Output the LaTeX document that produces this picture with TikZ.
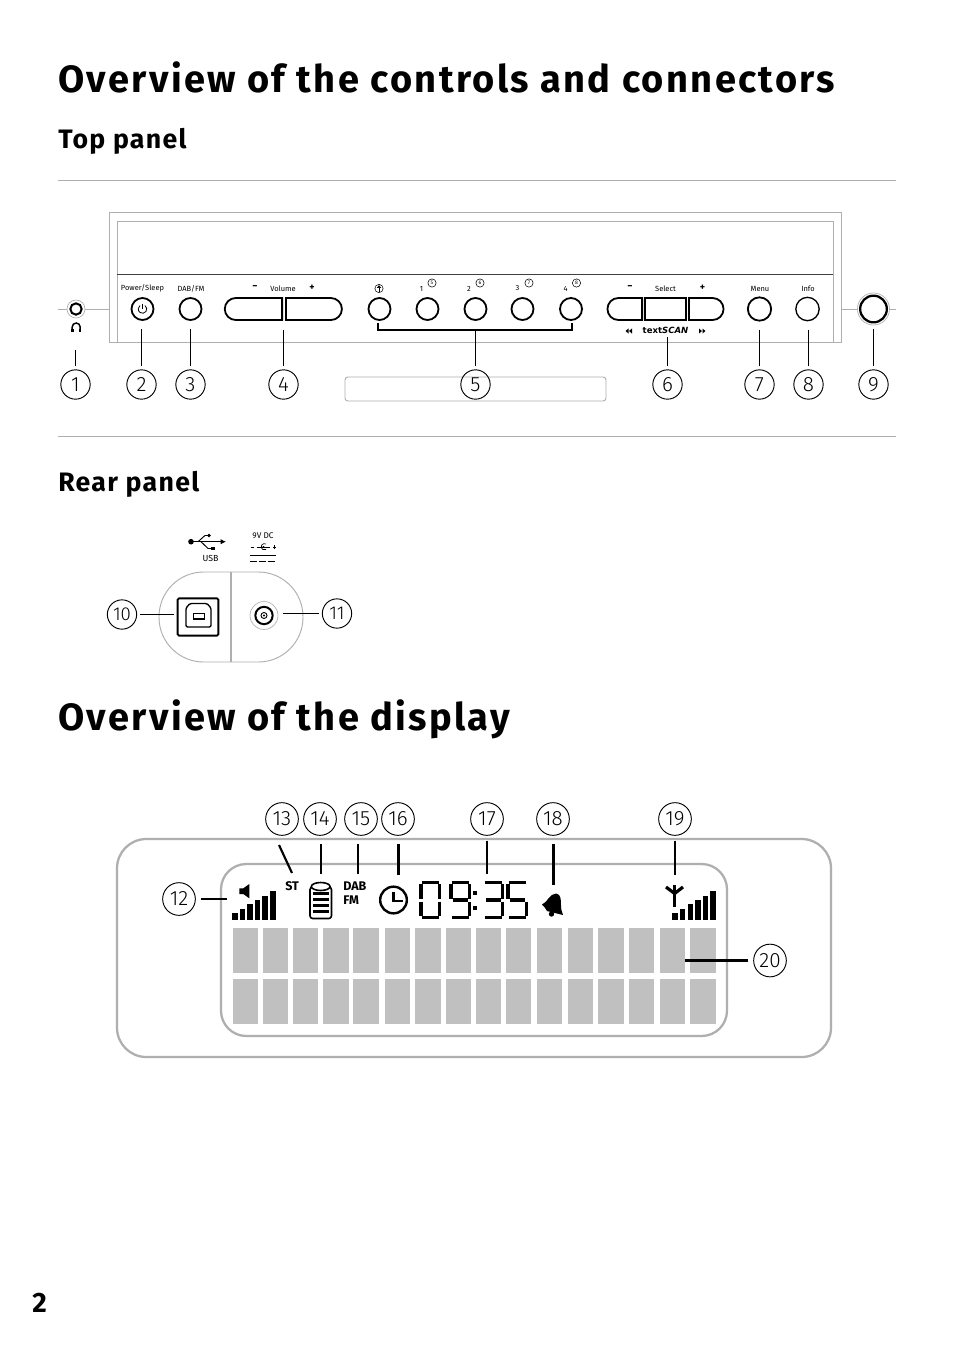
\documentclass[tikz,border=0pt]{standalone}
\usepackage{fontspec}
\setmainfont{Fira Sans}
\newfontfamily\headfont[LetterSpace=6.2]{Fira Sans}
\newfontfamily\subfont[LetterSpace=5.0]{Fira Sans}
\newfontfamily\callfont{Fira Sans Light}
\newfontfamily\scanfont{DejaVu Sans}
\usetikzlibrary{arrows.meta,positioning,shapes.misc}
\definecolor{panelgrey}{RGB}{175,175,175}
\definecolor{cellgrey}{RGB}{192,192,192}
\tikzset{
	callout/.style={draw,circle,line width=.7pt,minimum size=22pt,inner sep=0pt,outer sep=2.6pt,font=\callfont\fontsize{15.5}{15.5}\selectfont},
	bigcallout/.style={callout,minimum size=24.5pt,outer sep=4pt},
	leader/.style={line width=1pt},
	thickleader/.style={line width=1.6pt},
	rule/.style={draw=panelgrey,line width=.6pt},
	button/.style={draw,circle,line width=1.35pt,minimum size=16.5pt,inner sep=0pt,outer sep=7pt},
	pillleft/.style={draw,line width=1.35pt,rounded rectangle,rounded rectangle right arc=none,minimum height=16.5pt,inner sep=0pt},
	pillright/.style={draw,line width=1.35pt,rounded rectangle,rounded rectangle left arc=none,minimum height=16.5pt,inner sep=0pt},
	tinylabel/.style={inner sep=0pt,font=\fontsize{5.6}{6}\selectfont},
	signlabel/.style={inner sep=0pt,font=\bfseries\fontsize{7.5}{8}\selectfont},
	smallring/.style={draw,circle,line width=.4pt,minimum size=6.2pt,inner sep=0pt,font=\fontsize{3.8}{4}\selectfont},
	heading/.style={anchor=base west,inner sep=0pt,font=\headfont\bfseries\fontsize{28.5}{30}\selectfont},
	subheading/.style={anchor=base west,inner sep=0pt,font=\subfont\bfseries\fontsize{20}{22}\selectfont},
	lcdmark/.style={anchor=base west,inner sep=0pt,font=\bfseries\fontsize{9.4}{9}\selectfont},
	lcd/.style={line width=2.3pt},
	cell/.style={fill=cellgrey,draw=none},
}
\def\sA{(1.5,1.2)--(19,1.2)}
\def\sB{(19.5,3.2)--(19.5,17.5)}
\def\sC{(19.5,20.5)--(19.5,35)}
\def\sD{(1.5,36.8)--(19,36.8)}
\def\sE{(1,20.5)--(1,35)}
\def\sF{(1,3.2)--(1,17.5)}
\def\sG{(3,19)--(17.5,19)}
\begin{document}
\begin{tikzpicture}[x=.75pt,y=-.75pt]
	\useasboundingbox (0,0) rectangle (954,1354);
	\fill[white] (0,0) rectangle (954,1354);

	% headings
	\node[heading] (title1) at (58,92) {Overview of the controls and connectors};
	\node[subheading] (toptitle) at (58,148) {Top panel};
	\node[subheading] (reartitle) at (58,491) {Rear panel};
	\node[heading] (title2) at (58,730) {Overview of the display};
	\node[anchor=base,inner sep=0pt,font=\bfseries\fontsize{21}{22}\selectfont] (pagenum) at (39.5,1312) {2};

	\draw[rule] (58,180) -- (896,180);
	\draw[rule] (58,436) -- (896,436);

	% top panel
	\draw[rule] (109,342) -- (109,212) -- (841,212) -- (841,342) -- cycle;
	\draw[rule] (117,342) -- (117,221) -- (833,221) -- (833,342);
	\draw[line width=.9pt,black!75] (117,274.5) -- (833,274.5);
	\draw[rule,rounded corners=2.2pt,line width=.7pt] (345,377) rectangle (606,401);

	% side sockets
	\node[draw=panelgrey,circle,line width=.5pt,minimum size=13.5pt,inner sep=0pt] (phonesoc) at (76,309) {};
	\node[draw,circle,line width=1.5pt,minimum size=8.5pt,inner sep=0pt] at (76,309) {};
	\draw[rule] (58,309) -- (phonesoc);
	\draw[rule] (phonesoc) -- (109,309);
	\draw[line width=1.1pt] (72.2,331) -- (72.2,327) arc (180:0:3pt) -- (79.8,331);
	\fill (71,328.5) rectangle (73.5,332);
	\fill (78.5,328.5) rectangle (81,332);
	\node[draw=panelgrey,circle,line width=.5pt,minimum size=24pt,inner sep=0pt] (bigsoc) at (873.5,309) {};
	\node[draw,circle,line width=1.7pt,minimum size=20pt,inner sep=0pt] at (873.5,309) {};
	\draw[rule] (841,309) -- (bigsoc);
	\draw[rule] (bigsoc) -- (896,309);

	% buttons
	\node[button] (power) at (142.5,309) {};
	\draw[line width=.6pt] (144.95,305.5) arc (55:-235:3.2pt);
	\draw[line width=.6pt] (142.5,303.5) -- (142.5,309);
	\node[button] (dabfm) at (190.5,309) {};
	\node[pillleft,minimum width=43pt,anchor=east] (volminus) at (283,309) {};
	\node[pillright,minimum width=42pt,anchor=west] (volplus) at (285,309) {};
	\foreach \name/\px in {preup/379.5,pre1/427.5,pre2/475.5,pre3/522.5,pre4/571}
		\node[button] (\name) at (\px,309) {};
	\node[pillleft,minimum width=26pt,anchor=east] (selminus) at (643,309) {};
	\node[draw,line width=1.35pt,minimum width=30.5pt,minimum height=16.5pt,inner sep=0pt] (selmid) at (665.5,309) {};
	\node[pillright,minimum width=26pt,anchor=west] (selplus) at (688,309) {};
	\node[button,minimum size=17.5pt] (menu) at (759.5,309) {};
	\node[button,minimum size=17.5pt,line width=1pt] (info) at (807.5,309) {};

	% button labels
	\node[tinylabel] (lpower) at (142.5,288.5) {Power/Sleep};
	\node[tinylabel] (ldabfm) at (191,288.5) {DAB/FM};
	\node[tinylabel] (lvol) at (283,288.5) {Volume};
	\node[signlabel] (lvolm) at (255,288) {−};
	\node[signlabel] (lvolp) at (312,288) {+};
	\node[smallring] (lup) at (379,288.5) {};
	\draw[line width=.5pt,-{Latex[length=2.2pt,width=3.6pt]}] (379,291.5) -- (379,285);
	\foreach \name/\px/\num/\ringx/\ringnum in {l1/421.5/1/432/5,l2/469/2/480/6,l3/517.5/3/529/7,l4/565.5/4/576.5/8}{
		\node[tinylabel] (\name) at (\px,288.5) {\num};
		\node[smallring] (\name r) at (\ringx,283) {\ringnum};
	}
	\node[signlabel] (lselm) at (630,288) {−};
	\node[tinylabel] (lsel) at (665.5,288.5) {Select};
	\node[signlabel] (lselp) at (702.5,288) {+};
	\node[tinylabel] (lmenu) at (760,288.5) {Menu};
	\node[tinylabel] (linfo) at (808,288.5) {Info};
	\node[inner sep=0pt,outer sep=1pt,font=\scanfont\bfseries\fontsize{6.4}{7}\selectfont] (lscan) at (665.5,330.5) {text\textit{SCAN}};
	\fill (625.5,331) -- (628.5,328.5) -- (628.5,333.5) -- cycle (629,331) -- (632,328.5) -- (632,333.5) -- cycle;
	\fill (705.5,331) -- (702.5,328.5) -- (702.5,333.5) -- cycle (702,331) -- (699,328.5) -- (699,333.5) -- cycle;

	% bracket of the presets
	\coordinate (brl) at (378,323);
	\coordinate (brm) at (475.5,330);
	\coordinate (brr) at (572,323);
	\draw[line width=1.1pt] (brl) |- (brm) -| (brr);

	% callouts of the top panel
	\foreach \num/\px in {1/75.5,2/141.5,3/190.5,4/283.5,5/475.5,6/667.5,7/759.5,8/808.5,9/873.5}
		\node[callout] (n\num) at (\px,384.5) {\num};
	\coordinate (t1) at (75.5,350);
	\coordinate (t4) at (283.5,330);
	\coordinate (t6) at (667.5,337);
	\draw[leader] (n1) -- (t1);
	\draw[leader] (n2) -- (n2 |- power.south);
	\draw[leader] (n3) -- (n3 |- dabfm.south);
	\draw[leader] (n4) -- (t4);
	\draw[leader] (n5) -- (brm);
	\draw[leader] (n6) -- (t6);
	\draw[leader] (n7) -- (n7 |- menu.south);
	\draw[leader] (n8) -- (n8 |- info.south);
	\draw[leader] (n9) -- (n9 |- power.south);

	% rear panel
	\draw[draw=panelgrey,line width=.7pt,rounded corners=33.5pt] (159,572) rectangle (303,662);
	\draw[draw=panelgrey,line width=1.2pt] (231,572) -- (231,662);
	\node[draw,line width=1.4pt,rounded corners=1pt,minimum width=30.5pt,minimum height=28pt,inner sep=0pt,outer sep=3pt] (usbport) at (198,617) {};
	\draw[line width=1pt,rounded corners=1pt] (186,627) -- (186,608) -- (190,603.5) -- (207,603.5) -- (211,608) -- (211,627) -- cycle;
	\draw[line width=1pt] (193.5,613.5) rectangle (204.5,619);
	\node[draw=panelgrey,circle,line width=.5pt,minimum size=21pt,inner sep=0pt,outer sep=11pt] (dcsoc) at (264,615.5) {};
	\node[draw,circle,line width=1.5pt,minimum size=13pt,inner sep=0pt] at (264,615.5) {};
	\node[draw,circle,line width=.7pt,minimum size=4.5pt,inner sep=0pt] at (264,615.5) {};
	\fill (264,615.5) circle (.8pt);
	\node[callout,font=\callfont\fontsize{14}{14}\selectfont] (n10) at (122,614.5) {10};
	\node[callout,font=\callfont\fontsize{14}{14}\selectfont] (n11) at (337,613.5) {11};
	\draw[leader] (n10) -- (usbport.west |- n10);
	\draw[leader] (n11) -- (283,613.5);

	% usb and dc marks
	\fill (191,541.7) circle (2.1pt);
	\draw[line width=.7pt,-{Latex[length=4pt,width=4pt]}] (191,541.7) -- (226,541.7);
	\draw[line width=.7pt] (198,541.7) -- (205,535.5) -- (208,535.5);
	\draw[line width=.7pt] (201,541.7) -- (208,548.5) -- (212,548.5);
	\fill (209,535.5) circle (1.4pt);
	\fill (211,546.7) rectangle (214.5,550.3);
	\node[inner sep=0pt,font=\fontsize{6.6}{7}\selectfont] (lusb) at (210.5,558.5) {USB};
	\node[inner sep=0pt,font=\fontsize{6.2}{7}\selectfont] (ldc) at (263,535.5) {9V DC};
	\draw[line width=.5pt] (250.5,547) -- (254,547) (256.5,547) -- (270,547);
	\draw[line width=.5pt] (266,544) arc (60:300:2.4pt);
	\fill (263.5,547) circle (.9pt);
	\draw[line width=.5pt] (272.5,547) -- (276,547) (274.25,545.2) -- (274.25,548.8);
	\draw[line width=.6pt] (250,555.5) -- (276,555.5);
	\draw[line width=.6pt,dash pattern=on 5.2pt off 1.5pt] (250,561.5) -- (276,561.5);

	% display
	\draw[draw=panelgrey,line width=1.7pt,rounded corners=22pt] (117,839) rectangle (831,1057);
	\draw[draw=panelgrey,line width=1.7pt,rounded corners=19pt] (221,864) rectangle (727,1036);
	\foreach \xa/\xb in {233/258,263/288,293/318,323/349,353/379,385/410,415/441,446/471,476/501,506/531,537/562,568/593,598/624,629/654,660/685,690/716}{
		\fill[cell] (\xa,928) rectangle (\xb,973);
		\fill[cell] (\xa,979) rectangle (\xb,1024);
	}

	% signal bars
	\foreach \bx/\bt in {232/913,239.6/909,247.2/904,254.8/900,262.4/896,270/891}
		\fill (\bx,920) rectangle (\bx+5.5,\bt);
	\foreach \bx/\bt in {672.3/913,679.9/909,687.5/904,695.1/900,702.7/896,710.3/891}
		\fill (\bx,920) rectangle (\bx+5.5,\bt);
	\fill (239.3,888.3) -- (243.3,888.3) -- (249.3,884) -- (249.3,898.3) -- (243.3,894) -- (239.3,894) -- cycle;
	\coordinate (speaker) at (227,899);

	% lcd marks
	\node[lcdmark] (lst) at (285,890.5) {ST};
	\node[lcdmark] (ldab) at (343,890.5) {DAB};
	\node[lcdmark] (lfm) at (343,904.5) {FM};
	\coordinate (sst) at (279,845);
	\coordinate (tst) at (292,873);

	% battery
	\draw[line width=1.2pt,rounded corners=2pt] (310,887) rectangle (331.5,918.5);
	\draw[line width=1.2pt,fill=white] (320.7,886.5) ellipse (7pt and 3pt);
	\foreach \by in {892,898,904,910}
		\fill (313,\by) rectangle (328.5,\by+3);
	\coordinate (tbat) at (321,874);

	% clock
	\draw[line width=1.8pt] (393.5,900) circle (10pt);
	\draw[line width=1.8pt] (393.5,892) -- (393.5,900.8) -- (403,900.8);
	\coordinate (tdab) at (358,874);
	\coordinate (tclock) at (398.5,875);

	% time
	\draw[lcd,shift={(420,881)}] \sA \sB \sC \sD \sE \sF;
	\draw[lcd,shift={(450,881)}] \sA \sB \sC \sD \sF \sG;
	\fill (473,891) rectangle (476.5,894.5);
	\fill (473,906) rectangle (476.5,909.5);
	\draw[lcd,shift={(483,881)}] \sA \sB \sC \sD \sG;
	\draw[lcd,shift={(507,881)}] \sA \sC \sD \sF \sG;
	\coordinate (ttime) at (487,874);

	% bell
	\fill (542,904.5) .. controls (548,902) and (549,894) .. (556,893.5) .. controls (561,894) and (561,900) .. (561,905) .. controls (561,910) and (562,912) .. (563,915) -- (547,911) .. controls (545,908) and (544,906) .. (542,904.5) -- cycle;
	\fill (551.5,914) circle (2pt);
	\coordinate (tbell) at (553.5,885);

	% antenna
	\draw[line width=2.4pt] (666,887) -- (674.6,893.5) -- (683,887);
	\draw[line width=2.4pt] (674.6,885) -- (674.6,907);
	\coordinate (tant) at (675,875);

	% callouts of the display
	\foreach \num/\px in {13/282,14/320,15/361,16/398,17/487,18/553,19/675}
		\node[bigcallout] (n\num) at (\px,819) {\num};
	\node[bigcallout] (n12) at (179,899) {12};
	\node[bigcallout] (n20) at (770,960.5) {20};
	\coordinate (t20) at (685,960.5);
	\coordinate (dtop) at (0,844);
	\draw[thickleader] (n12) -- (speaker);
	\draw[thickleader] (sst) -- (tst);
	\draw[thickleader] (dtop -| tbat) -- (tbat);
	\draw[thickleader] (dtop -| tdab) -- (tdab);
	\draw[thickleader] (dtop -| tclock) -- (tclock);
	\draw[thickleader] (n17) -- (ttime);
	\draw[thickleader] (dtop -| tbell) -- (tbell);
	\draw[thickleader] (n19) -- (tant);
	\draw[thickleader] (n20) -- (t20);
\end{tikzpicture}
\end{document}
